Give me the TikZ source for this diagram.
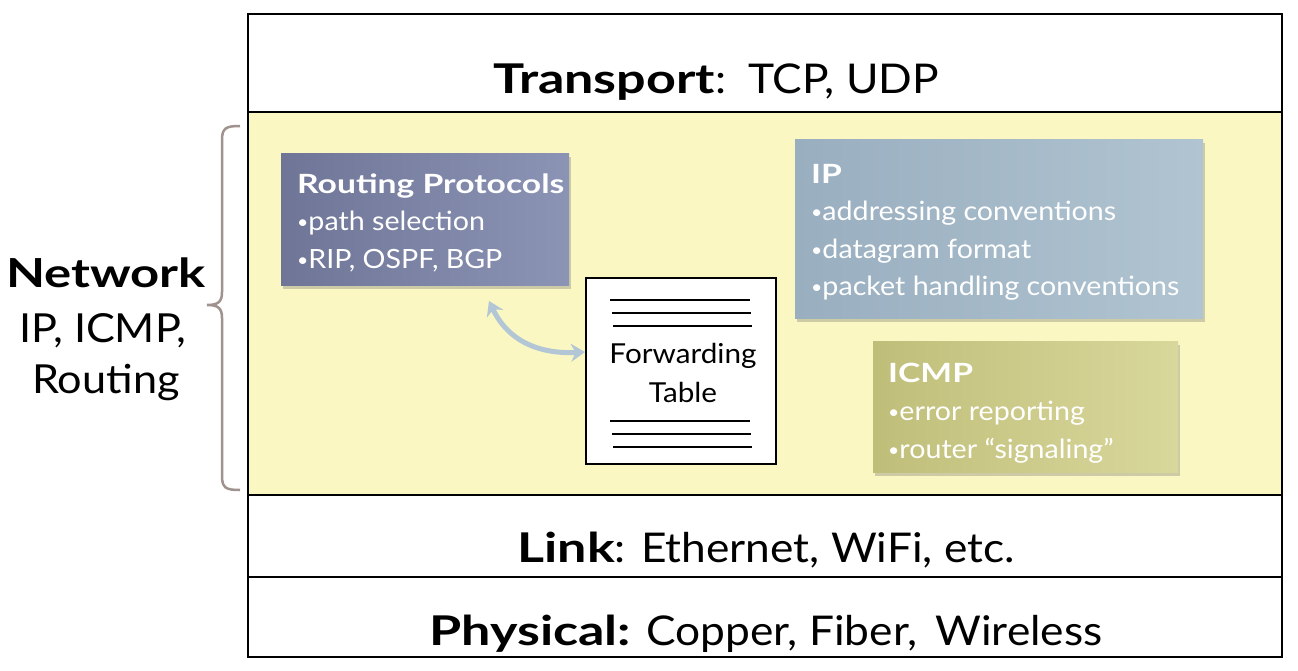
\documentclass[tikz,border=0pt]{standalone}
\usepackage{fontspec}
\setmainfont{Lato}[FakeStretch=1.08, BoldFeatures={FakeStretch=1.27}]
\usetikzlibrary{arrows.meta,shadows}
\definecolor{netyellow}{HTML}{FAF7C2}
\definecolor{rpL}{HTML}{6E7596}
\definecolor{rpR}{HTML}{8C94B6}
\definecolor{ipL}{HTML}{99AEBF}
\definecolor{ipR}{HTML}{B0C4D1}
\definecolor{icL}{HTML}{BFBE79}
\definecolor{icR}{HTML}{D9D89C}
\definecolor{bracecol}{HTML}{A0928F}
\definecolor{arrowcol}{HTML}{B3C6D6}
\newcommand{\bul}{{\fontsize{18}{18}\selectfont\raisebox{0.22ex}{\textbullet}}}
\tikzset{
  layerline/.style={draw=black, line width=2pt},
  boxtitle/.style={anchor=base west, inner sep=0pt, text=white, font=\bfseries\fontsize{26.5}{30}\selectfont},
  boxitem/.style={anchor=base west, inner sep=0pt, text=white, font=\fontsize{26.5}{30}\selectfont},
  layertext/.style={anchor=base, inner sep=0pt, font=\fontsize{41}{48}\selectfont},
  nettext/.style={anchor=base, inner sep=0pt, font=\fontsize{40}{44}\selectfont},
  shadowbox/.style={drop shadow={shadow xshift=2pt, shadow yshift=-4pt, opacity=0.3, fill=black!60}},
  ftline/.style={draw=black, line width=2pt},
}
\begin{document}
\begin{tikzpicture}[x=1pt,y=-1pt]
\useasboundingbox (0,0) rectangle (1298,670);
\fill[white] (0,0) rectangle (1298,670);
% network band
\fill[netyellow] (248,112) rectangle (1282,495);
% outer frame and layer separators
\draw[layerline] (248,14) rectangle (1282,657);
\draw[layerline] (248,112) -- (1282,112);
\draw[layerline] (248,495) -- (1282,495);
\draw[layerline] (248,577) -- (1282,577);
% layer texts
\node[layertext] (transport) at (716,93) {\textbf{Transport}:\, TCP, UDP};
\node[layertext] (link) at (766,562) {\textbf{Link}: Ethernet, WiFi, etc.};
\node[layertext] (physical) at (766,645) {\textbf{Physical:} Copper, Fiber,\, Wireless};
% network label
\node[nettext] (netA) at (106,287) {\textbf{Network}};
\node[nettext] (netB) at (103,342) {IP, ICMP,};
\node[nettext] (netC) at (106,393) {Routing};
% brace
\draw[bracecol, line width=2.5pt] (240,126) .. controls (226,126) and (222,128) .. (222,140) -- (222,292) .. controls (222,302) and (218,305) .. (207,305) .. controls (218,305) and (222,308) .. (222,318) -- (222,476) .. controls (222,488) and (226,490) .. (240,490);
% routing protocols box
\path[shadowbox, left color=rpL, right color=rpR] (281,153) rectangle (569,285);
\node[boxtitle] (rpT) at (297,193) {Routing Protocols};
\node[boxitem] (rp1) at (297,230) {\bul path selection};
\node[boxitem] (rp2) at (297,268) {\bul RIP, OSPF, BGP};
% IP box
\path[shadowbox, left color=ipL, right color=ipR] (795,139) rectangle (1203,318);
\node[boxtitle] (ipT) at (811,183) {IP};
\node[boxitem] (ip1) at (811,220) {\bul addressing conventions};
\node[boxitem] (ip2) at (811,258) {\bul datagram format};
\node[boxitem] (ip3) at (811,295) {\bul packet handling conventions};
% ICMP box
\path[shadowbox, left color=icL, right color=icR] (873,341) rectangle (1178,472);
\node[boxtitle] (icT) at (888,382) {ICMP};
\node[boxitem] (ic1) at (888,420) {\bul error reporting};
\node[boxitem] (ic2) at (888,458) {\bul router “signaling”};
% forwarding table
\node[draw=black, line width=2pt, fill=white, minimum width=190pt, minimum height=186pt, inner sep=0pt] (ft) at (681,371) {};
\node[inner sep=0pt, anchor=base, font=\fontsize{27.5}{30}\selectfont] (ftA) at (683,363) {Forwarding};
\node[inner sep=0pt, anchor=base, font=\fontsize{27.5}{30}\selectfont] (ftB) at (683,402) {Table};
\draw[ftline] (610,300) -- (750,300);
\draw[ftline] (612,313) -- (751,313);
\draw[ftline] (613,326) -- (752,326);
\draw[ftline] (610,421) -- (750,421);
\draw[ftline] (612,434) -- (751,434);
\draw[ftline] (613,447) -- (752,447);
% double arrow
\coordinate (a1) at (489,301);
\coordinate (a2) at (585,352);
\draw[arrowcol, line width=5pt, {Stealth[length=14pt,width=18pt]}-{Stealth[length=14pt,width=18pt]}] (a1) .. controls (510,345) and (545,354) .. (a2);
\end{tikzpicture}
\end{document}
